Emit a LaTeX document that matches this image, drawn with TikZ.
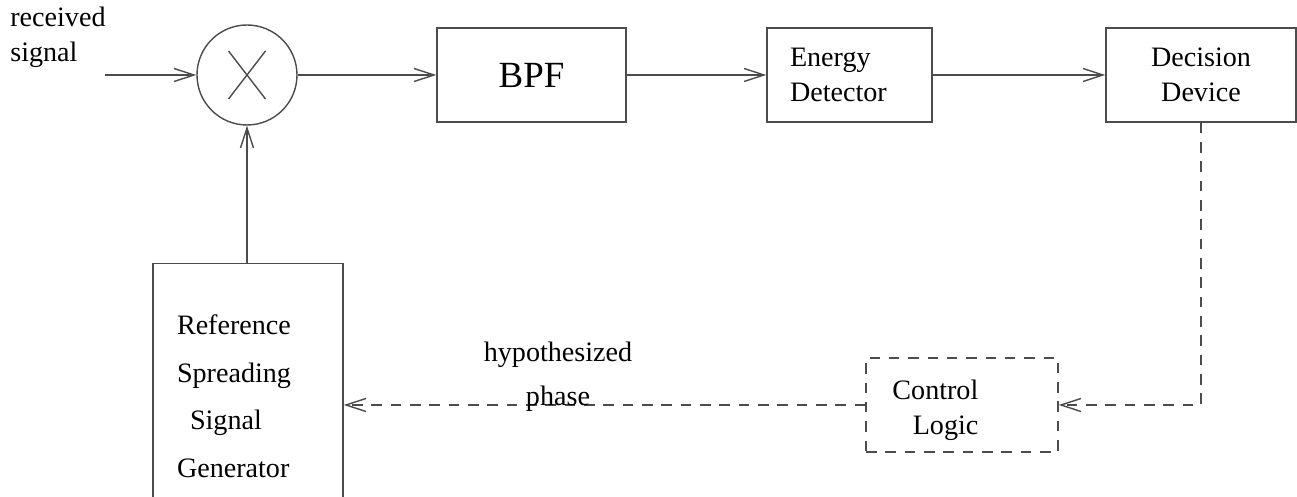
\documentclass[tikz,border=0pt]{standalone}
\usepackage{fontspec}
\setmainfont{Liberation Serif}
\usetikzlibrary{arrows.meta,calc,positioning}
\tikzset{
    block/.style = {draw=black!70, line width=0.8pt, rectangle,
        minimum height=1.88cm,
        minimum width=3.8cm, align=center},
    dblock/.style = {block, dash pattern=on 6pt off 5pt},
    mixer/.style = {draw=black!70, line width=0.8pt, circle, minimum size=2cm, inner sep=0pt},
    arrow/.style = {draw=black!70, line width=0.8pt, -{Straight Barb[length=4mm,width=2.6mm]}},
    darrow/.style = {arrow, dash pattern=on 6pt off 5pt},
    lbl/.style = {font=\fontsize{16pt}{20pt}\selectfont}
}
\begin{document}
\begin{tikzpicture}[lbl]
    \useasboundingbox (0,0) rectangle (25.94,9.94);
    \clip (0,0) rectangle (25.94,9.94);
    % forward path
    \node [mixer] (mix) at (4.94,8.44) {};
    \draw [black!70, line width=0.8pt] ($(mix.center)+(-0.37,0.48)$) -- ($(mix.center)+(0.37,-0.48)$)
          ($(mix.center)+(0.37,0.48)$) -- ($(mix.center)+(-0.37,-0.48)$);
    \node [block, minimum width=3.78cm, font=\fontsize{21pt}{25pt}\selectfont] (bpf) at (10.63,8.44) {BPF};
    \node [block, minimum width=3.3cm, text width=2.38cm, inner xsep=0.46cm, align=left] (ed) at (16.99,8.44) {Energy\\Detector};
    \node [block] (dd) at (24.02,8.44) {Decision\\Device};
    \coordinate (in) at (2.1,8.44);
    \node [anchor=north west, align=left, inner sep=0pt] (rx) at (0.2,9.8) {received\\signal};
    \draw [arrow] (in) -- (mix);
    \draw [arrow] (mix) -- (bpf);
    \draw [arrow] (bpf) -- (ed);
    \draw [arrow] (ed) -- (dd);
    % feedback path
    \node [dblock, minimum width=3.84cm] (ctrl) at (19.24,1.84) {};
    \node [anchor=east, align=right, inner sep=0pt] (ctrltxt) at ([xshift=-1.6cm,yshift=-0.1cm]ctrl.east) {Control\\Logic};
    \node [block, anchor=north, minimum height=5.3cm, text width=2.84cm, inner xsep=0.48cm, align=left] (ref) at (4.96,4.68)
          {Reference\\[7pt]Spreading\\[7pt]\hspace*{0.26cm}Signal\\[7pt]Generator};
    \draw [darrow] (dd.south) |- (ctrl.east);
    \draw [darrow] (ctrl.west) -- (ctrl.west -| ref.east);
    \node [align=center] (hyp) at (11.16,2.4) {hypothesized\\[5pt]phase};
    \draw [arrow] (ref.north -| mix.south) -- (mix.south);
\end{tikzpicture}
\end{document}
